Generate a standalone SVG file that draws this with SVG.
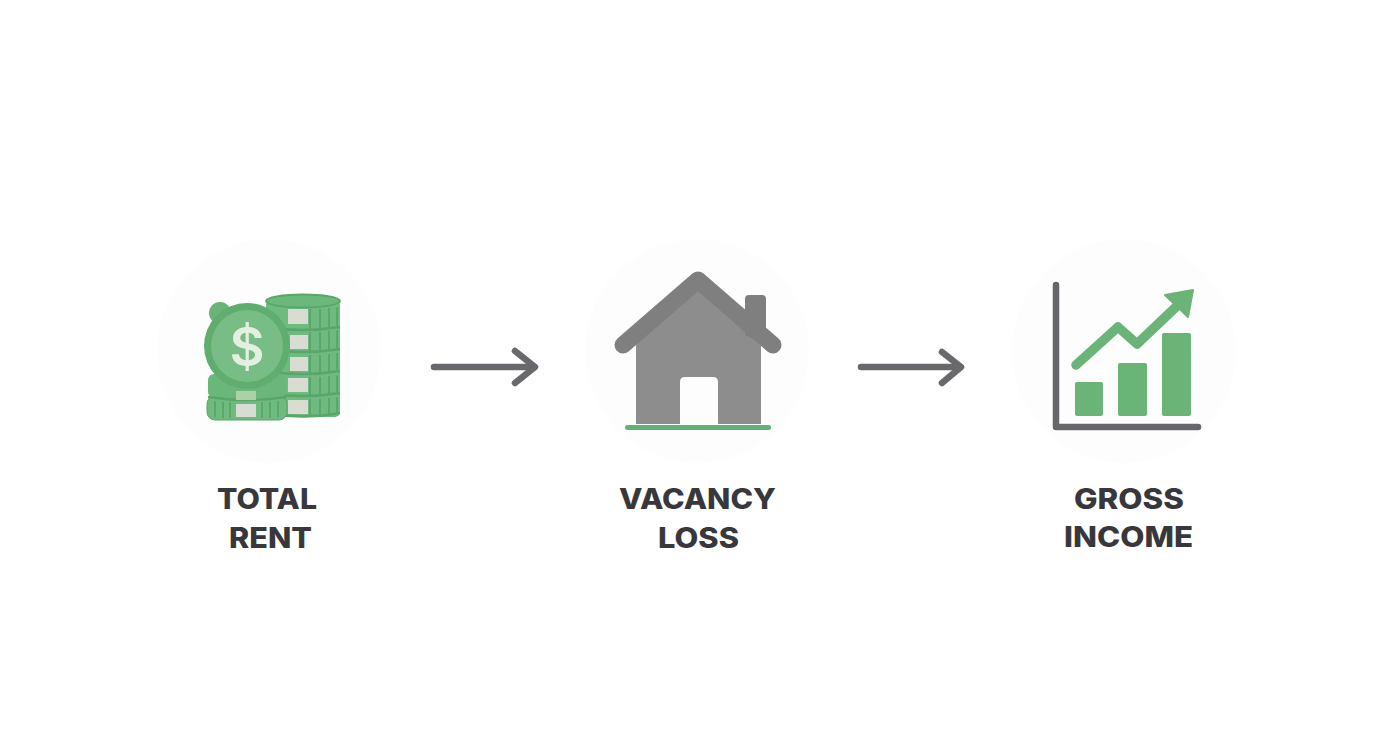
<svg xmlns="http://www.w3.org/2000/svg" width="1392" height="752" viewBox="0 0 1392 752">
<defs>
<style>
.halo{fill:#fcfdfc}
.lbl{font-family:"Inter","Liberation Sans",sans-serif;font-weight:800;font-size:28px;fill:#38383c;text-anchor:middle}
.arrow{fill:none;stroke:#69696d;stroke-width:6.5;stroke-linecap:round;stroke-linejoin:round}
.gband{fill:#6fba7f}
.tan{fill:#d9dcd2}
.rib{stroke:#58a66a;stroke-width:1.8;fill:none}
.bar{fill:#69b476}
</style>
</defs>
<rect width="1392" height="752" fill="#ffffff"/>
<circle class="halo" cx="269" cy="351" r="112"/>
<circle class="halo" cx="697" cy="351" r="112"/>
<circle class="halo" cx="1124" cy="351" r="112"/>
<g id="connectors">
<g id="arrow-1" class="arrow"><path d="M434 367H534"/><path d="M515 351L535 367L515 383"/></g>
<g id="arrow-2" class="arrow"><path d="M861 367H960"/><path d="M942 352L961 367L942 383"/></g>
</g>
<g id="node-total-rent">
<g id="back-stack">
<rect x="266" y="300" width="74" height="117" rx="5" class="gband"/>
<path d="M266 327Q303 333 340 327M266 349Q303 355 340 349M266 371Q303 377 340 371M266 393Q303 399 340 393M266 413Q303 420 340 413" stroke="#58a66a" stroke-width="2.6" fill="none"/>
<path d="M310 309v19M320 309v19M329 308v19M337 307v19M310 332v20M320 332v20M329 331v20M337 330v20M310 355v19M320 355v19M329 354v19M337 353v19M310 377v19M320 377v19M329 376v19M337 375v19M310 399v17M320 399v17M329 398v17M337 397v17" class="rib"/>
<rect x="288" y="309" width="20" height="15" class="tan"/>
<rect x="290" y="335" width="18" height="14" class="tan"/>
<rect x="290" y="357" width="18" height="14" class="tan"/>
<rect x="288" y="378" width="20" height="14" class="tan"/>
<rect x="288" y="400" width="20" height="14" class="tan"/>
<ellipse cx="303" cy="301" rx="37" ry="6.5" fill="#6cb87c" stroke="#58a66a" stroke-width="1.8"/>
</g>
<g id="front-stack">
<rect x="207" y="396" width="80" height="24" rx="8" class="gband" stroke="#58a66a" stroke-width="1"/>
<rect x="208" y="374" width="78" height="24" rx="6" fill="#6bb67b"/>
<path d="M208 397Q247 403 286 397" stroke="#58a66a" stroke-width="2.4" fill="none"/>
<path d="M215 401v16M223 402v16M230 402v16M262 402v16M270 402v16M278 401v16" class="rib"/>
<rect x="236" y="404" width="20" height="13" class="tan"/>
<rect x="236" y="391" width="20" height="9" fill="#a9d2a6"/>
</g>
<g id="coin">
<circle cx="220" cy="313" r="11" fill="#68b378"/>
<circle cx="247" cy="346" r="43" fill="#5fae70"/>
<circle cx="247" cy="346" r="36" fill="#77bd85"/>
<text x="247" y="366" font-family="Inter,'Liberation Sans',sans-serif" font-size="54" font-weight="600" fill="#e4f0df" text-anchor="middle">$</text>
</g>
</g>
<g id="node-vacancy-loss">
<path d="M636 424V335L698 284L761 335V424H718V382Q718 377 713 377H685Q680 377 680 382V424Z" fill="#8e8d8d"/>
<path d="M745 335V299Q745 295 749 295H762Q766 295 766 299V345Z" fill="#7f7f7f"/>
<path d="M623 345L698 280L773 345" fill="none" stroke="#7f7f7f" stroke-width="17" stroke-linecap="round" stroke-linejoin="round"/>
<rect x="625" y="425" width="146" height="5" rx="2.5" fill="#62b276"/>
</g>
<g id="node-gross-income">
<path d="M1056 285V427H1198" fill="none" stroke="#67676b" stroke-width="6.5" stroke-linecap="round" stroke-linejoin="round"/>
<rect x="1075" y="382" width="28" height="34" rx="2" class="bar"/>
<rect x="1118" y="363" width="29" height="53" rx="2" class="bar"/>
<rect x="1162" y="333" width="29" height="83" rx="2" class="bar"/>
<path d="M1076 365L1118 327L1137 344L1178 305" fill="none" stroke="#69b476" stroke-width="9.5" stroke-linecap="round" stroke-linejoin="round"/>
<path d="M1165 295L1193 290L1188 317Z" fill="#69b476" stroke="#69b476" stroke-width="2" stroke-linejoin="round"/>
</g>
<g id="labels">
<g id="label-total-rent"><text class="lbl" x="267" y="509" textLength="100" lengthAdjust="spacingAndGlyphs">TOTAL</text><text class="lbl" x="270.5" y="548" textLength="83" lengthAdjust="spacingAndGlyphs">RENT</text></g>
<g id="label-vacancy-loss"><text class="lbl" x="697.5" y="509" textLength="157" lengthAdjust="spacingAndGlyphs">VACANCY</text><text class="lbl" x="698.5" y="548" textLength="81" lengthAdjust="spacingAndGlyphs">LOSS</text></g>
<g id="label-gross-income"><text class="lbl" x="1129" y="509" textLength="110" lengthAdjust="spacingAndGlyphs">GROSS</text><text class="lbl" x="1128.5" y="547" textLength="129" lengthAdjust="spacingAndGlyphs">INCOME</text></g>
</g>
</svg>
